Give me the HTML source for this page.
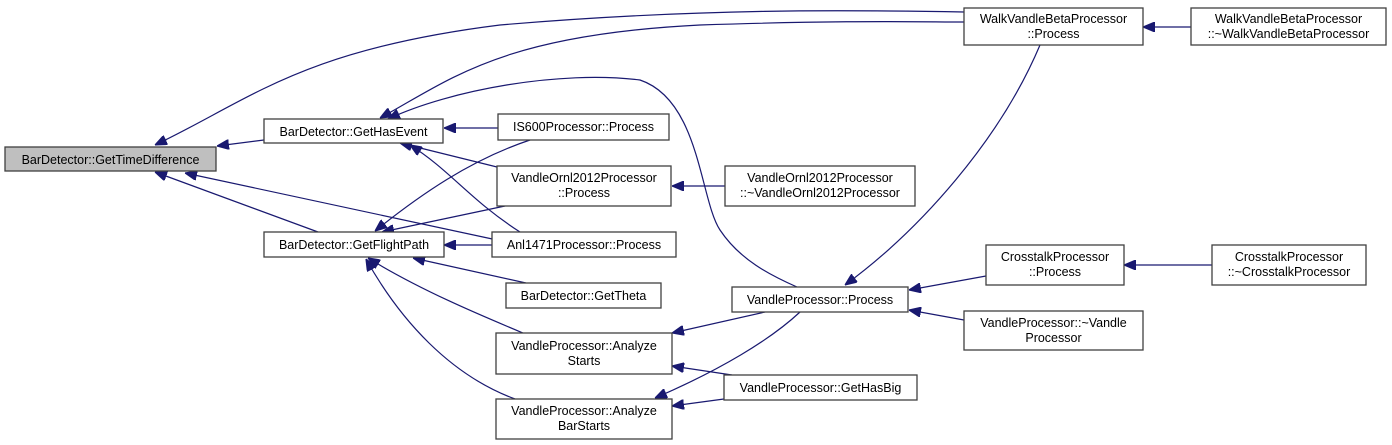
<!DOCTYPE html>
<html><head><meta charset="utf-8"><style>
html,body{margin:0;padding:0;background:#fff;}
svg{display:block;}
text{font-family:"Liberation Sans",sans-serif;font-size:12.5px;fill:#000;}
rect{fill:#fff;stroke:#404040;stroke-width:1.3;}
path{fill:none;stroke:#191970;stroke-width:1.2;}
</style></head><body>
<svg width="1392" height="445" viewBox="0 0 1392 445" xmlns="http://www.w3.org/2000/svg">
<defs><marker id="a" markerWidth="12" markerHeight="10" refX="0" refY="5" orient="auto" markerUnits="userSpaceOnUse"><path d="M12,0 L0,5 L12,10 Z" style="fill:#191970;stroke:#191970"/></marker></defs>
<g>
<path marker-start="url(#a)" d="M217,146 L264,140"/>
<path marker-start="url(#a)" d="M155,172 L318,232"/>
<path marker-start="url(#a)" d="M155,145 C250,100 300,50 500,25 C700,8 850,10 964,12"/>
<path marker-start="url(#a)" d="M185,173 L497,240"/>
<path marker-start="url(#a)" d="M380,118 C450,80 500,35 700,25 C850,20 920,22 964,22"/>
<path marker-start="url(#a)" d="M388,119 C450,90 560,70 640,80 C700,100 700,200 720,230 C740,260 770,275 797,287"/>
<path marker-start="url(#a)" d="M444,128 L498,128"/>
<path marker-start="url(#a)" d="M400,143 L497,167"/>
<path marker-start="url(#a)" d="M410,145 C450,170 470,200 520,232"/>
<path marker-start="url(#a)" d="M375,231 C420,195 470,160 530,140"/>
<path marker-start="url(#a)" d="M382,232 L505,206"/>
<path marker-start="url(#a)" d="M444,245 L492,245"/>
<path marker-start="url(#a)" d="M413,258 L526,283"/>
<path marker-start="url(#a)" d="M368,258 C420,290 480,315 523,333"/>
<path marker-start="url(#a)" d="M366,259 C400,320 450,375 515,399"/>
<path marker-start="url(#a)" d="M672,186 L725,186"/>
<path marker-start="url(#a)" d="M1143,27 L1191,27"/>
<path marker-start="url(#a)" d="M845,285 C920,230 1000,140 1040,45"/>
<path marker-start="url(#a)" d="M909,290 L986,276"/>
<path marker-start="url(#a)" d="M909,310 L964,320"/>
<path marker-start="url(#a)" d="M1124,265 L1212,265"/>
<path marker-start="url(#a)" d="M672,333 L765,312"/>
<path marker-start="url(#a)" d="M655,398 C720,370 770,340 800,312"/>
<path marker-start="url(#a)" d="M672,366 L732,375"/>
<path marker-start="url(#a)" d="M672,406 L724,399"/>
</g>
<rect x="5" y="147" width="211" height="24" style="fill:#bfbfbf"/>
<text x="110.5" y="164" text-anchor="middle">BarDetector::GetTimeDifference</text>
<rect x="264" y="119" width="179" height="24"/>
<text x="353.5" y="136" text-anchor="middle">BarDetector::GetHasEvent</text>
<rect x="264" y="232" width="180" height="25"/>
<text x="354" y="249" text-anchor="middle">BarDetector::GetFlightPath</text>
<rect x="964" y="8" width="179" height="37"/>
<text x="1053.5" y="23" text-anchor="middle">WalkVandleBetaProcessor</text>
<text x="1053.5" y="38" text-anchor="middle">::Process</text>
<rect x="1191" y="8" width="195" height="37"/>
<text x="1288.5" y="23" text-anchor="middle">WalkVandleBetaProcessor</text>
<text x="1288.5" y="38" text-anchor="middle">::~WalkVandleBetaProcessor</text>
<rect x="498" y="114" width="171" height="26"/>
<text x="583.5" y="131" text-anchor="middle">IS600Processor::Process</text>
<rect x="497" y="166" width="174" height="40"/>
<text x="584" y="182" text-anchor="middle">VandleOrnl2012Processor</text>
<text x="584" y="197" text-anchor="middle">::Process</text>
<rect x="725" y="166" width="190" height="40"/>
<text x="820" y="182" text-anchor="middle">VandleOrnl2012Processor</text>
<text x="820" y="197" text-anchor="middle">::~VandleOrnl2012Processor</text>
<rect x="492" y="232" width="184" height="25"/>
<text x="584" y="249" text-anchor="middle">Anl1471Processor::Process</text>
<rect x="506" y="283" width="155" height="25"/>
<text x="583.5" y="300" text-anchor="middle">BarDetector::GetTheta</text>
<rect x="732" y="287" width="176" height="25"/>
<text x="820" y="304" text-anchor="middle">VandleProcessor::Process</text>
<rect x="986" y="245" width="138" height="40"/>
<text x="1055" y="261" text-anchor="middle">CrosstalkProcessor</text>
<text x="1055" y="276" text-anchor="middle">::Process</text>
<rect x="1212" y="245" width="154" height="40"/>
<text x="1289" y="261" text-anchor="middle">CrosstalkProcessor</text>
<text x="1289" y="276" text-anchor="middle">::~CrosstalkProcessor</text>
<rect x="964" y="311" width="179" height="39"/>
<text x="1053.5" y="327" text-anchor="middle">VandleProcessor::~Vandle</text>
<text x="1053.5" y="342" text-anchor="middle">Processor</text>
<rect x="496" y="333" width="176" height="41"/>
<text x="584" y="350" text-anchor="middle">VandleProcessor::Analyze</text>
<text x="584" y="365" text-anchor="middle">Starts</text>
<rect x="724" y="375" width="193" height="25"/>
<text x="820.5" y="392" text-anchor="middle">VandleProcessor::GetHasBig</text>
<rect x="496" y="399" width="176" height="40"/>
<text x="584" y="415" text-anchor="middle">VandleProcessor::Analyze</text>
<text x="584" y="430" text-anchor="middle">BarStarts</text>
</svg>
</body></html>
